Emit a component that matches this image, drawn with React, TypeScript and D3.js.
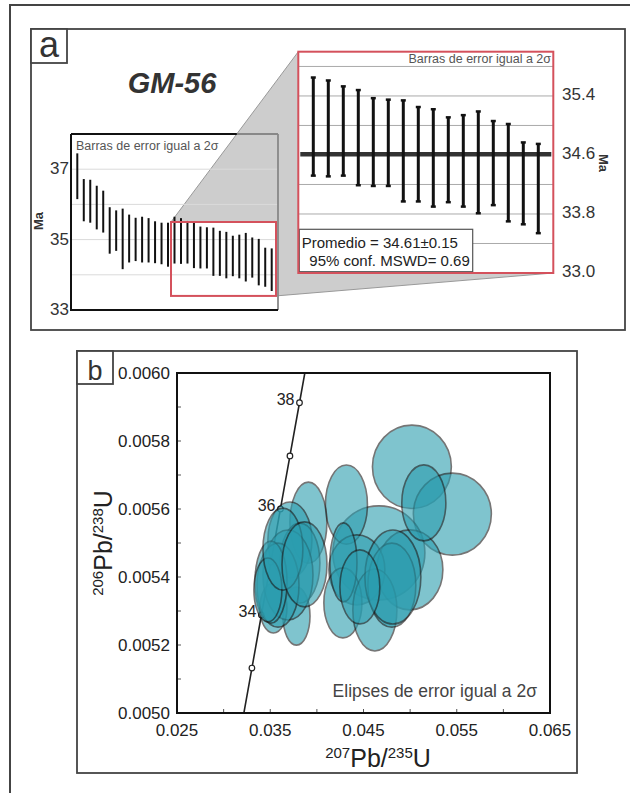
import { useEffect, useRef } from "react";
import * as d3 from "d3";

// panel a: 2-sigma error bars (Ma), grains in plotted order
const barHigh = [
  37.45, 36.72, 36.7, 36.53, 36.39, 35.92, 35.83, 35.88, 35.71, 35.62, 35.65, 35.61, 35.52, 35.48, 35.48,
  35.65, 35.61, 35.53, 35.48, 35.37, 35.35, 35.34, 35.25, 35.22, 35.11, 35.14, 35.19, 35.06, 35.02, 34.77, 34.75,
];
const barLow = [
  36.15, 35.52, 35.48, 35.29, 35.2, 34.6, 34.68, 34.16, 34.35, 34.39, 34.35, 34.35, 34.33, 34.3, 34.23,
  34.32, 34.31, 34.32, 34.19, 34.18, 34.18, 33.97, 33.97, 33.9, 33.96, 33.9, 33.81, 33.92, 33.7, 33.66, 33.54,
];
const zoomFirst = 15; // first grain shown in the enlarged view
const meanAge = 34.61;
const meanText = ["Promedio = 34.61±0.15", "95% conf. MSWD= 0.69"];
const smallTicks = [33, 35, 37];
const smallGrid = [34, 35, 36, 37];
const zoomTicks = [33.0, 33.8, 34.6, 35.4];
const zoomGrid = [33.4, 33.8, 34.2, 35.0, 35.4, 35.8];
const zoomWindow = [33.4, 35.5];

// panel b: concordia (Ma, 207Pb/235U, 206Pb/238U)
const concAge = [32, 33, 34, 35, 36, 37, 38, 39];
const concX = [0.032017, 0.033034, 0.034052, 0.035071, 0.036091, 0.037111, 0.038135, 0.039156];
const concY = [0.0049763, 0.0051322, 0.0052882, 0.0054441, 0.0056001, 0.0057561, 0.0059125, 0.0060682];
const concLabels = [34, 36, 38];

// panel b: 2-sigma error ellipses (centre and semi-axes)
const ellX = [
  0.05019, 0.05453, 0.04665, 0.04997, 0.04317, 0.04429, 0.04279, 0.04285, 0.04622, 0.04804, 0.05147, 0.04815, 0.04461,
  0.03909, 0.03711, 0.03781, 0.03534, 0.03818, 0.0369, 0.03583, 0.03508, 0.03475, 0.03636, 0.03867,
];
const ellY = [
  0.005724, 0.005585, 0.005471, 0.005421, 0.005613, 0.005421, 0.005324, 0.005443, 0.005303, 0.005376, 0.005618, 0.0054, 0.005371,
  0.00556, 0.005509, 0.005285, 0.005309, 0.005441, 0.005406, 0.005376, 0.005385, 0.005362, 0.005482, 0.005437,
];
const ellRx = [
  0.00423, 0.00418, 0.00493, 0.00354, 0.00225, 0.003, 0.00204, 0.00145, 0.00236, 0.00257, 0.00236, 0.003, 0.00214,
  0.00198, 0.00236, 0.00145, 0.00145, 0.00214, 0.00268, 0.00225, 0.00172, 0.0015, 0.00214, 0.00241,
];
const ellRy = [
  0.0001226, 0.0001206, 0.0001382, 0.0001176, 0.0001162, 0.0001029, 0.0001029, 0.0001162, 0.0001206, 0.0001235, 0.0001118, 0.0001382, 0.0001088,
  0.0001191, 0.0001118, 0.0000853, 0.0000735, 0.0001176, 0.0001323, 0.0001235, 0.0001206, 0.0000941, 0.0001206, 0.000125,
];

const App = () => {
  const chartRef = useRef(null);

  useEffect(() => {
    if (!chartRef.current) return;
    const svg = d3.select(chartRef.current);
    svg.selectAll("*").remove();
    svg.attr("font-family", "'Liberation Sans', Arial, sans-serif");

    const frame = "#444";

    // outer frame
    svg.append("rect").attr("x", 10).attr("y", 5).attr("width", 640).attr("height", 800)
      .attr("fill", "none").attr("stroke", frame).attr("stroke-width", 2);

    // ---------------- panel a ----------------
    svg.append("rect").attr("x", 31).attr("y", 29).attr("width", 594).attr("height", 301)
      .attr("fill", "#fff").attr("stroke", frame).attr("stroke-width", 1.8);
    svg.append("rect").attr("x", 31).attr("y", 29).attr("width", 36).attr("height", 34)
      .attr("fill", "#fff").attr("stroke", frame).attr("stroke-width", 1.8);
    svg.append("text").attr("x", 49).attr("y", 57).attr("text-anchor", "middle")
      .attr("font-size", 36).attr("fill", "#333").text("a");
    svg.append("text").attr("x", 172).attr("y", 93).attr("text-anchor", "middle")
      .attr("font-size", 29).attr("font-weight", "bold").attr("font-style", "italic")
      .attr("fill", "#333").text("GM-56");

    // small overview plot
    const sx = d3.scaleLinear().domain([0, barHigh.length - 1]).range([77.3, 271.7]);
    const sy = d3.scaleLinear().domain([33, 38]).range([310, 134]);
    const sL = 71, sR = 278;

    // enlarged plot
    const n = barHigh.length - zoomFirst;
    const bx = d3.scaleLinear().domain([0, n - 1]).range([313.3, 538.3]);
    const by = d3.scaleLinear().domain([33, 36]).range([273, 51.7]);
    const bL = 298.3, bR = 553.3;

    // zoom window in the overview
    const wx0 = sx(zoomFirst) - 3.5, wx1 = sx(barHigh.length - 1) + 4.3;
    const wy0 = sy(zoomWindow[1]), wy1 = sy(zoomWindow[0]);

    // grey projection
    svg.append("polygon")
      .attr("points", [[wx0, wy0], [bL, by(36)], [bR, by(33)], [wx1, wy1]].map((p) => p.join(",")).join(" "))
      .attr("fill", "#cdcdcd").attr("stroke", "#999").attr("stroke-width", 1);
    svg.append("rect").attr("x", wx0).attr("y", wy0).attr("width", wx1 - wx0).attr("height", wy1 - wy0)
      .attr("fill", "#fff");

    svg.append("g").selectAll("line").data(smallGrid).join("line")
      .attr("x1", sL).attr("x2", sR).attr("y1", (d) => sy(d)).attr("y2", (d) => sy(d))
      .attr("stroke", "#dadada").attr("stroke-width", 1);

    svg.append("text").attr("x", 76).attr("y", 150).attr("font-size", 12.5).attr("fill", "#555")
      .text("Barras de error igual a 2σ");

    svg.append("g").selectAll("line").data(barHigh).join("line")
      .attr("x1", (_, i) => sx(i)).attr("x2", (_, i) => sx(i))
      .attr("y1", (d) => sy(d)).attr("y2", (_, i) => sy(barLow[i]))
      .attr("stroke", "#111").attr("stroke-width", 2);

    // overview frame: top/right seen through the grey projection
    const cross = wx0 + ((wy0 - 134) / (wy0 - by(36))) * (bL - wx0);
    svg.append("line").attr("x1", sL).attr("x2", sR).attr("y1", 134).attr("y2", 134)
      .attr("stroke", "#888").attr("stroke-width", 1.8);
    svg.append("line").attr("x1", sR).attr("x2", sR).attr("y1", 134).attr("y2", 310)
      .attr("stroke", "#888").attr("stroke-width", 1.8);
    svg.append("line").attr("x1", sL).attr("x2", cross).attr("y1", 134).attr("y2", 134)
      .attr("stroke", "#111").attr("stroke-width", 1.8);
    svg.append("path").attr("d", `M${sL},134V310H${sR}`).attr("fill", "none")
      .attr("stroke", "#111").attr("stroke-width", 2);
    svg.append("rect").attr("x", wx0).attr("y", wy0).attr("width", wx1 - wx0).attr("height", wy1 - wy0)
      .attr("fill", "none").attr("stroke", "#d4515c").attr("stroke-width", 2);

    svg.append("g").selectAll("text").data(smallTicks).join("text")
      .attr("x", 69).attr("y", (d) => sy(d) + 5).attr("text-anchor", "end")
      .attr("font-size", 17).attr("fill", "#333").text((d) => d);
    svg.append("text").attr("transform", "translate(43,221) rotate(-90)").attr("text-anchor", "middle")
      .attr("font-size", 13).attr("font-weight", "bold").attr("fill", "#333").text("Ma");

    // enlarged view
    svg.append("rect").attr("x", bL).attr("y", by(36)).attr("width", bR - bL).attr("height", by(33) - by(36))
      .attr("fill", "#fff");
    svg.append("g").selectAll("line").data(zoomGrid).join("line")
      .attr("x1", bL).attr("x2", bR).attr("y1", (d) => by(d)).attr("y2", (d) => by(d))
      .attr("stroke", "#aaa").attr("stroke-width", 1);
    svg.append("text").attr("x", 551).attr("y", 63).attr("text-anchor", "end")
      .attr("font-size", 12.5).attr("fill", "#555").text("Barras de error igual a 2σ");

    svg.append("line").attr("x1", bL + 2).attr("x2", bR - 2).attr("y1", by(meanAge)).attr("y2", by(meanAge))
      .attr("stroke", "#333").attr("stroke-width", 4.5);

    const zoomed = barHigh.slice(zoomFirst).map((h, i) => ({ i, h, l: barLow[zoomFirst + i] }));
    const gb = svg.append("g").attr("stroke", "#111");
    gb.selectAll(".bar").data(zoomed).join("line").attr("class", "bar")
      .attr("x1", (d) => bx(d.i)).attr("x2", (d) => bx(d.i))
      .attr("y1", (d) => by(d.h)).attr("y2", (d) => by(d.l)).attr("stroke-width", 3);
    gb.selectAll(".capH").data(zoomed).join("line").attr("class", "capH")
      .attr("x1", (d) => bx(d.i) - 2.5).attr("x2", (d) => bx(d.i) + 2.5)
      .attr("y1", (d) => by(d.h)).attr("y2", (d) => by(d.h)).attr("stroke-width", 2.5);
    gb.selectAll(".capL").data(zoomed).join("line").attr("class", "capL")
      .attr("x1", (d) => bx(d.i) - 2.5).attr("x2", (d) => bx(d.i) + 2.5)
      .attr("y1", (d) => by(d.l)).attr("y2", (d) => by(d.l)).attr("stroke-width", 2.5);

    svg.append("rect").attr("x", 299.3).attr("y", 229.3).attr("width", 173.4).attr("height", 42.4)
      .attr("fill", "#fff").attr("stroke", "#555").attr("stroke-width", 1.2);
    svg.append("text").attr("x", 301.7).attr("y", 247.5).attr("font-size", 15).attr("fill", "#222").text(meanText[0]);
    svg.append("text").attr("x", 309.3).attr("y", 265.5).attr("font-size", 15).attr("fill", "#222").text(meanText[1]);

    svg.append("rect").attr("x", bL).attr("y", by(36)).attr("width", bR - bL).attr("height", by(33) - by(36))
      .attr("fill", "none").attr("stroke", "#d4515c").attr("stroke-width", 2);
    svg.append("g").selectAll("text").data(zoomTicks).join("text")
      .attr("x", 562).attr("y", (d) => by(d) + 4).attr("font-size", 17).attr("fill", "#333")
      .text((d) => d3.format(".1f")(d));
    svg.append("text").attr("transform", "translate(599,163) rotate(90)").attr("text-anchor", "middle")
      .attr("font-size", 13).attr("font-weight", "bold").attr("fill", "#333").text("Ma");

    // ---------------- panel b ----------------
    svg.append("rect").attr("x", 77).attr("y", 351).attr("width", 500).attr("height", 422)
      .attr("fill", "#fff").attr("stroke", frame).attr("stroke-width", 1.8);
    svg.append("rect").attr("x", 77).attr("y", 351).attr("width", 36).attr("height", 33)
      .attr("fill", "#fff").attr("stroke", frame).attr("stroke-width", 1.8);
    svg.append("text").attr("x", 95).attr("y", 380).attr("text-anchor", "middle")
      .attr("font-size", 27).attr("fill", "#333").text("b");

    const x = d3.scaleLinear().domain([0.025, 0.065]).range([177, 550]);
    const y = d3.scaleLinear().domain([0.005, 0.006]).range([713, 373]);

    svg.append("clipPath").attr("id", "plotclip").append("rect")
      .attr("x", 177).attr("y", 373).attr("width", 373).attr("height", 340);
    const plot = svg.append("g").attr("clip-path", "url(#plotclip)");

    const conc = concAge.map((a, i) => ({ a, x: concX[i], y: concY[i] }));
    plot.append("path")
      .attr("d", d3.line<any>().x((d) => x(d.x)).y((d) => y(d.y))(conc))
      .attr("fill", "none").attr("stroke", "#222").attr("stroke-width", 1.6);
    plot.selectAll("circle").data(conc.filter((d) => d.a >= 33 && d.a <= 38)).join("circle")
      .attr("cx", (d) => x(d.x)).attr("cy", (d) => y(d.y)).attr("r", 2.8)
      .attr("fill", "#fff").attr("stroke", "#222").attr("stroke-width", 1.2);

    plot.selectAll("ellipse").data(ellX).join("ellipse")
      .attr("cx", (d) => x(d)).attr("cy", (_, i) => y(ellY[i]))
      .attr("rx", (d, i) => x(d + ellRx[i]) - x(d))
      .attr("ry", (_, i) => y(ellY[i] - ellRy[i]) - y(ellY[i]))
      .attr("fill", "#2b9daf").attr("stroke", "#1a1a1a").attr("stroke-width", 1.6)
      .attr("opacity", 0.6);

    svg.append("g").selectAll("text").data(conc.filter((d) => concLabels.includes(d.a))).join("text")
      .attr("x", (d) => x(d.x) - 5).attr("y", (d) => y(d.y) + 2).attr("text-anchor", "end")
      .attr("font-size", 16).attr("fill", "#222").text((d) => d.a);

    // inward ticks
    svg.append("g").selectAll("line").data(x.ticks(8)).join("line")
      .attr("x1", (d) => x(d)).attr("x2", (d) => x(d)).attr("y1", 713).attr("y2", 709)
      .attr("stroke", "#555").attr("stroke-width", 1);
    svg.append("g").selectAll("line").data(y.ticks(10)).join("line")
      .attr("x1", 177).attr("x2", 181).attr("y1", (d) => y(d)).attr("y2", (d) => y(d))
      .attr("stroke", "#555").attr("stroke-width", 1);

    svg.append("rect").attr("x", 177).attr("y", 373).attr("width", 373).attr("height", 340)
      .attr("fill", "none").attr("stroke", "#111").attr("stroke-width", 2);

    svg.append("g").selectAll("text").data(d3.range(0.025, 0.0651, 0.01)).join("text")
      .attr("x", (d) => x(d)).attr("y", 736).attr("text-anchor", "middle")
      .attr("font-size", 17).attr("fill", "#222").text((d) => d3.format(".3f")(d));
    svg.append("g").selectAll("text").data(d3.range(0.005, 0.00601, 0.0002)).join("text")
      .attr("x", 170).attr("y", (d) => y(d) + 6).attr("text-anchor", "end")
      .attr("font-size", 17).attr("fill", "#222").text((d) => d3.format(".4f")(d));

    svg.append("text").attr("x", 537).attr("y", 697).attr("text-anchor", "end")
      .attr("font-size", 17.5).attr("fill", "#444").text("Elipses de error igual a 2σ");

    const ratio = (t: any, parts: string[]) => {
      parts.forEach((p, i) => {
        const sup = i % 2 === 0;
        t.append("tspan").attr("font-size", sup ? 15 : 25).attr("dy", i === 0 ? -9 : sup ? -9 : 9).text(p);
      });
    };
    ratio(svg.append("text").attr("x", 378).attr("y", 767).attr("text-anchor", "middle").attr("fill", "#222"),
      ["207", "Pb/", "235", "U"]);
    ratio(svg.append("text").attr("transform", "translate(112,543) rotate(-90)").attr("text-anchor", "middle").attr("fill", "#222"),
      ["206", "Pb/", "238", "U"]);
  }, []);

  return (
    <svg
      ref={chartRef}
      width={630}
      height={793}
      style={{ position: "absolute", left: 0, top: 0, background: "#fff" }}
    ></svg>
  );
};

export default App;
